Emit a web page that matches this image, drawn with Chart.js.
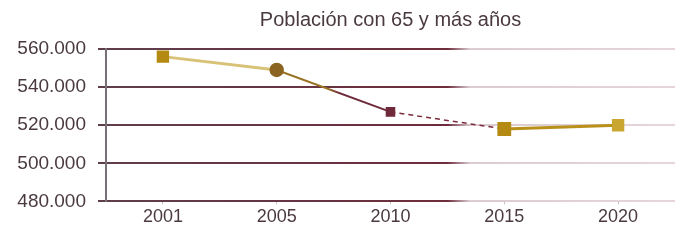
<!DOCTYPE html>
<html><head><meta charset="utf-8">
<script src="https://cdn.jsdelivr.net/npm/chart.js@4/dist/chart.umd.min.js"></script>
<style>html,body{margin:0;padding:0;background:#fff}#wrap{width:675px;height:244px}</style>
</head><body><div id="wrap"><canvas id="c"></canvas></div>
<script>
const chartTitle = 'Población con 65 y más años';
const years = ['2001', '2005', '2010', '2015', '2020'];
const population = [556000, 549000, 527000, 518000, 520000];
const yTicks = [480000, 500000, 520000, 540000, 560000];

const fmt = v => v.toLocaleString('de-DE', {minimumFractionDigits: 0}).replace(/,/g, '.');

function gridGradient(ctx) {
  const ca = ctx.chart.chartArea;
  if (!ca) return '#6e3a4a';
  const g = ctx.chart.ctx.createLinearGradient(ca.left, 0, ca.right, 0);
  g.addColorStop(0, '#5f3e4c');
  g.addColorStop(0.6, '#6e2c3c');
  g.addColorStop(0.64, '#dcccd1');
  g.addColorStop(1, '#e6d6da');
  return g;
}

function midSegColor(c) {
  const ca = c.chart && c.chart.chartArea;
  if (!ca || !c.p0 || !c.p1) return '#8a5a28';
  const g = c.chart.ctx.createLinearGradient(c.p0.x, 0, c.p1.x, 0);
  g.addColorStop(0, '#9a7224');
  g.addColorStop(0.45, '#9a7224');
  g.addColorStop(0.55, '#6e2a3a');
  g.addColorStop(1, '#6e2a3a');
  return g;
}

const segColors = ['#d8c278', null, '#7a2c3c', '#b8901a'];

new Chart(document.getElementById('c'), {
  type: 'line',
  data: {
    labels: years,
    datasets: [{
      data: population,
      borderWidth: 2.5,
      pointStyle: ['rect', 'circle', 'rect', 'rect', 'rect'],
      pointRadius: [7, 6, 5, 8, 7],
      pointBackgroundColor: ['#b48a12', '#8a6420', '#6e2a3a', '#b48a12', '#c9a630'],
      pointBorderColor: ['#b48a12', '#8a6420', '#6e2a3a', '#b48a12', '#c9a630'],
      segment: {
        borderColor: c => c.p0DataIndex === 1 ? midSegColor(c) : segColors[c.p0DataIndex],
        borderDash: c => c.p0DataIndex === 2 ? [5, 4] : undefined,
        borderWidth: c => c.p0DataIndex === 2 ? 1.5 : (c.p0DataIndex === 1 ? 2 : 3)
      },
      tension: 0
    }]
  },
  options: {
    responsive: true,
    maintainAspectRatio: false,
    animation: false,
    layout: {autoPadding: false, padding: {left: 0, right: 0, top: 0, bottom: 14}},
    plugins: {
      legend: {display: false},
      tooltip: {enabled: false},
      title: {
        display: true,
        text: chartTitle,
        fullSize: false,
        color: '#4a3a40',
        font: {family: 'Liberation Sans', size: 20, weight: 'normal'},
        padding: {top: 8, bottom: 17}
      }
    },
    scales: {
      x: {
        offset: true,
        afterFit: s => { s.paddingRight = 0; s.paddingLeft = 0; },
        grid: {display: true, drawOnChartArea: false, tickLength: 3, color: '#c8c0c4'},
        border: {display: false},
        ticks: {color: '#4a3a40', font: {family: 'Liberation Sans', size: 18}, padding: 2}
      },
      y: {
        min: 480000,
        max: 560000,
        afterBuildTicks: s => { s.ticks = yTicks.map(v => ({value: v})); },
        afterFit: s => { s.width = 106; },
        grid: {color: gridGradient, lineWidth: 2, tickLength: 8, drawTicks: true},
        border: {display: true, color: '#7a7078', width: 2},
        ticks: {
          color: '#4a3a40',
          font: {family: 'Liberation Sans', size: 19},
          padding: 12,
          callback: v => fmt(v)
        }
      }
    }
  }
});
</script>
</body></html>
